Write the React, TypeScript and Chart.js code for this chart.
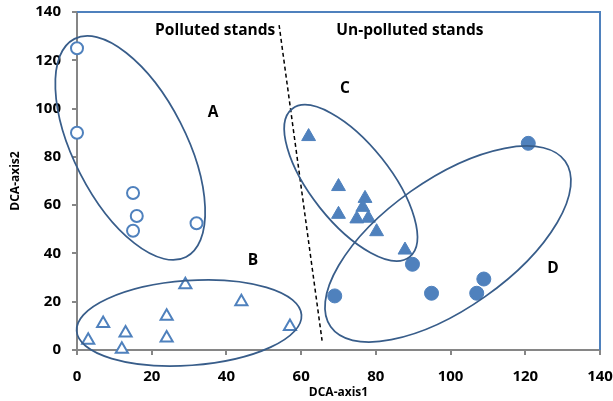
import React, { useEffect, useRef } from "react";
import { Chart, registerables } from "chart.js";

Chart.register(...registerables);

// Group A: open circles (polluted)
const groupAX = [0, 0, 15, 16, 15, 32];
const groupAY = [125, 90, 65, 55.5, 49.4, 52.5];
// Group B: open triangles (polluted)
const groupBX = [3, 7, 12, 13, 24, 24, 29, 44, 57];
const groupBY = [4, 11, 0.3, 7, 14, 5, 27, 20, 9.7];
// Group C: filled triangles (un-polluted)
const groupCX = [62, 70, 70, 77.1, 76.5, 74.9, 78, 80.2, 87.8];
const groupCY = [88.4, 67.7, 56.2, 62.8, 59.1, 54.3, 54.6, 49, 41.4];
// Group D: filled circles (un-polluted)
const groupDX = [120.8, 89.8, 69, 94.9, 108.9, 107];
const groupDY = [85.6, 35.5, 22.4, 23.5, 29.4, 23.5];
// Divider (dashed) line between polluted and un-polluted stands
const dividerX = [54.1, 65.6];
const dividerY = [134.6, 3.9];

const xTicks = [0, 20, 40, 60, 80, 100, 120, 140];
const yTicks = [0, 20, 40, 60, 80, 100, 120, 140];

// Text annotations (data coordinates)
const noteTexts = ["Polluted stands", "Un-polluted stands", "A", "B", "C", "D"];
const noteX = [37, 89.1, 36.4, 47.1, 71.7, 127.4];
const noteY = [132.5, 132.5, 98.2, 37, 108.3, 33.8];

// Group ellipses: centre in data units, semi-axes in px, rotation in degrees (screen)
const ellipseCX = [14.25, 30.0, 73.3, 99.3];
const ellipseCY = [83.7, 11.2, 69.2, 43.9];
const ellipseA = [122.5, 112.7, 94.5, 143.5];
const ellipseB = [56.2, 42.4, 39.6, 64.4];
const ellipseRot = [62.9, -4.1, 51.5, -35.2];

const BLUE = "#4F81BD";
const OUTLINE = "#385D8A";
const AXIS = "#868686";
const FONT = "'Open Sans', sans-serif";

const toPts = (xs: number[], ys: number[]) => xs.map((x, i) => ({ x, y: ys[i] }));

const overlayPlugin = {
  id: "overlay",
  afterDatasetsDraw(chart: any) {
    const { ctx, chartArea, scales } = chart;
    const xs = scales.x;
    const ys = scales.y;
    ctx.save();
    // plot area border (top & right)
    ctx.strokeStyle = BLUE;
    ctx.lineWidth = 2;
    ctx.beginPath();
    ctx.moveTo(chartArea.left, chartArea.top);
    ctx.lineTo(chartArea.right, chartArea.top);
    ctx.lineTo(chartArea.right, chartArea.bottom);
    ctx.stroke();
    // ellipses
    ctx.strokeStyle = OUTLINE;
    ctx.lineWidth = 1.75;
    for (let i = 0; i < ellipseCX.length; i++) {
      const cx = xs.getPixelForValue(ellipseCX[i]);
      const cy = ys.getPixelForValue(ellipseCY[i]);
      ctx.beginPath();
      ctx.ellipse(cx, cy, ellipseA[i], ellipseB[i], (ellipseRot[i] * Math.PI) / 180, 0, Math.PI * 2);
      ctx.stroke();
    }
    // texts
    ctx.fillStyle = "#000";
    ctx.font = `bold 15.5px ${FONT}`;
    ctx.textAlign = "center";
    ctx.textBaseline = "middle";
    for (let i = 0; i < noteTexts.length; i++) {
      ctx.fillText(noteTexts[i], xs.getPixelForValue(noteX[i]), ys.getPixelForValue(noteY[i]));
    }
    ctx.restore();
  },
};

export default function App() {
  const ref = useRef<HTMLCanvasElement | null>(null);
  useEffect(() => {
    document.body.style.margin = "0";
    const canvas = ref.current;
    if (!canvas) return;
    const chart = new Chart(canvas, {
      type: "scatter",
      data: {
        datasets: [
          {
            label: "A",
            data: toPts(groupAX, groupAY),
            pointStyle: "circle",
            pointRadius: 6,
            pointBorderWidth: 2,
            pointBackgroundColor: "#ffffff",
            pointBorderColor: BLUE,
            clip: false,
          } as any,
          {
            label: "B",
            data: toPts(groupBX, groupBY),
            pointStyle: "triangle",
            pointRadius: 7,
            pointBorderWidth: 2,
            pointBackgroundColor: "#ffffff",
            pointBorderColor: BLUE,
            clip: false,
          } as any,
          {
            label: "C",
            data: toPts(groupCX, groupCY),
            pointStyle: "triangle",
            pointRadius: 8,
            pointBorderWidth: 1,
            pointBackgroundColor: BLUE,
            pointBorderColor: BLUE,
            clip: false,
          } as any,
          {
            label: "D",
            data: toPts(groupDX, groupDY),
            pointStyle: "circle",
            pointRadius: 7,
            pointBorderWidth: 1,
            pointBackgroundColor: BLUE,
            pointBorderColor: BLUE,
            clip: false,
          } as any,
          {
            label: "divider",
            data: toPts(dividerX, dividerY),
            showLine: true,
            pointRadius: 0,
            borderColor: "#000000",
            borderWidth: 1.5,
            borderDash: [4, 3],
            clip: false,
          } as any,
        ],
      },
      options: {
        animation: false,
        responsive: true,
        maintainAspectRatio: false,
        layout: { padding: { top: 12, right: 13, left: 0, bottom: 0 } },
        plugins: { legend: { display: false }, tooltip: { enabled: false } },
        scales: {
          x: {
            type: "linear",
            min: 0,
            max: 140,
            afterBuildTicks: (s: any) => {
              s.ticks = xTicks.map((v) => ({ value: v }));
            },
            afterFit: (s: any) => {
              s.height = 51;
              s.paddingLeft = 0;
              s.paddingRight = 0;
            },
            ticks: { color: "#000", padding: 13, font: { family: FONT, size: 15, weight: "bold" } },
            grid: { drawOnChartArea: false, drawTicks: true, tickLength: 5, color: AXIS, lineWidth: 2 },
            border: { display: true, color: AXIS, width: 2 },
            title: {
              display: true,
              text: "DCA-axis1",
              color: "#000",
              padding: { top: 0, bottom: 1 },
              font: { family: FONT, size: 12, weight: "bold" },
            },
          },
          y: {
            type: "linear",
            min: 0,
            max: 140,
            afterBuildTicks: (s: any) => {
              s.ticks = yTicks.map((v) => ({ value: v }));
            },
            afterFit: (s: any) => {
              s.width = 77;
              s.paddingTop = 0;
              s.paddingBottom = 0;
            },
            ticks: { color: "#000", padding: 11, font: { family: FONT, size: 15, weight: "bold" } },
            grid: { drawOnChartArea: false, drawTicks: true, tickLength: 5, color: AXIS, lineWidth: 2 },
            border: { display: true, color: AXIS, width: 2 },
            title: {
              display: true,
              text: "DCA-axis2",
              color: "#000",
              padding: { top: 8, bottom: 0 },
              font: { family: FONT, size: 12, weight: "bold" },
            },
          },
        },
      },
      plugins: [overlayPlugin],
    });
    return () => chart.destroy();
  }, []);
  return (
    <div style={{ position: "absolute", left: 0, top: 0, width: 613, height: 401, background: "#fff" }}>
      <canvas ref={ref} />
    </div>
  );
}
